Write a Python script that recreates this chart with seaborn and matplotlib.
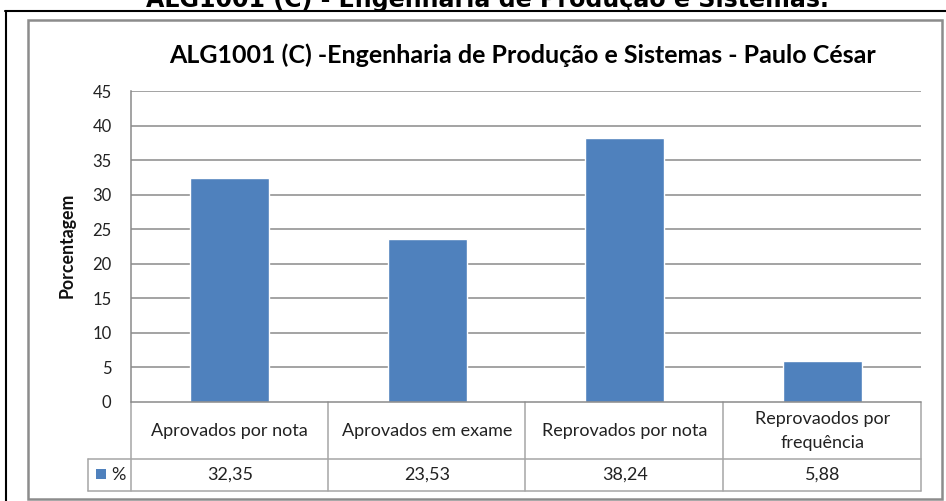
import matplotlib
matplotlib.use("Agg")
import matplotlib.pyplot as plt
import matplotlib.transforms as mtransforms
from matplotlib.lines import Line2D
from matplotlib.patches import Rectangle
import seaborn as sns
import pandas as pd

categories = ["Aprovados por nota", "Aprovados em exame", "Reprovados por nota", "Reprovaodos por\nfrequência"]
values = [32.35, 23.53, 38.24, 5.88]
value_labels = ["32,35", "23,53", "38,24", "5,88"]
yticks = [0, 5, 10, 15, 20, 25, 30, 35, 40, 45]
series_name = "%"
page_title = "ALG1001 (C) - Engenharia de Produção e Sistemas."
chart_title = "ALG1001 (C) -Engenharia de Produção e Sistemas - Paulo César"
ylabel = "Porcentagem"

sns.set_style("white")
plt.rcParams["font.family"] = ["Lato", "DejaVu Sans"]

W, H = 946, 501
fig = plt.figure(figsize=(W / 100, H / 100), dpi=100)

def fx(px):
    return px / W

def fy(py):
    return (H - py) / H

# plot area
left, right, top, bottom = 131, 921, 91, 402
ax = fig.add_axes([fx(left), fy(bottom), fx(right) - fx(left), fy(top) - fy(bottom)])

df = pd.DataFrame({"cat": categories, "val": values})
sns.barplot(data=df, x="cat", y="val", color="#4F81BD", saturation=1, width=0.4, ax=ax)
ax.set_xlim(-0.5, len(categories) - 0.5)
ax.set_ylim(0, 45)
ax.set_yticks(yticks)
ax.set_yticklabels([str(t) for t in yticks], fontsize=12, color="#222222")
ax.tick_params(axis="y", length=0, pad=14)
ax.set_xticks([])
ax.set_xlabel("")
ax.set_ylabel("")
for t in yticks[1:]:
    ax.axhline(t, color="#8a8a8a", lw=1.1, zorder=0)
for s in ["top", "right", "bottom"]:
    ax.spines[s].set_visible(False)
ax.spines["left"].set_color("#8a8a8a")
ax.spines["left"].set_linewidth(1.1)

# y label
fig.text(fx(67), fy(245), ylabel, rotation=90, ha="center", va="center",
         fontsize=12.8, fontweight="bold", color="#111111")

# titles
fig.text(fx(487), fy(7), page_title, ha="center", va="baseline",
         fontsize=17.1, fontweight="bold", family="DejaVu Sans", color="black")
fig.text(fx(523), fy(63), chart_title, ha="center", va="baseline",
         fontsize=18, fontweight="bold", color="black")

# data table
tc = "#a6a6a6"
row1_top, row2_top, row2_bot = 402, 459, 491
sep_x = [131, 328, 525, 723, 921]
def fline(x0, y0, x1, y1, color, lw):
    fig.add_artist(Line2D([fx(x0), fx(x1)], [fy(y0), fy(y1)], color=color, lw=lw,
                          transform=fig.transFigure))

for x in sep_x:
    fline(x, row1_top, x, row2_bot, tc, 1.1)
fline(88, row2_top, 921, row2_top, tc, 1.1)
fline(88, row2_bot, 921, row2_bot, tc, 1.1)
fline(88, row2_top, 88, row2_bot, tc, 1.1)
fline(131, row1_top, 921, row1_top, "#8a8a8a", 1.1)

blend = mtransforms.blended_transform_factory(ax.transData, fig.transFigure)
for i, (c, v) in enumerate(zip(categories, value_labels)):
    fig.text(i, fy(431), c, transform=blend, ha="center", va="center",
             fontsize=13, color="#222222", linespacing=1.6)
    fig.text(i, fy(475), v, transform=blend, ha="center", va="center",
             fontsize=13, color="#222222")

fig.add_artist(Rectangle((fx(96), fy(479)), fx(10), 10 / H, transform=fig.transFigure,
                         color="#4F81BD", lw=0))
fig.text(fx(111), fy(475), series_name, ha="left", va="center", fontsize=13, color="#222222")

# borders
fig.add_artist(Rectangle((fx(28), fy(499)), fx(942) - fx(28), fy(20) - fy(499),
                         transform=fig.transFigure, fill=False, ec="#8c8c8c", lw=1.8))
fline(5, 11, 946, 11, "black", 1.5)
fline(6, 11, 6, 501, "black", 1.5)

fig.savefig("out.png", dpi=100)
